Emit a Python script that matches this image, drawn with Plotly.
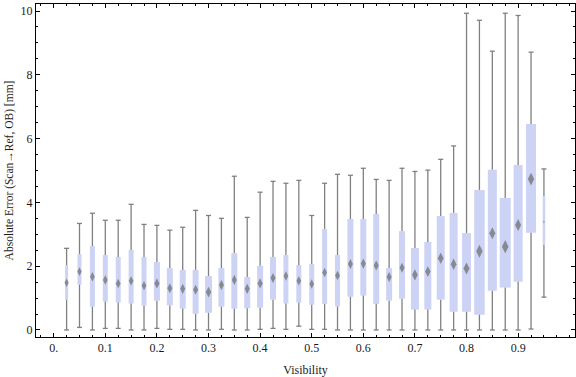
import plotly.graph_objects as go

# ---- data ----
visibility = [0.025, 0.05, 0.075, 0.1, 0.125, 0.15, 0.175, 0.2, 0.225, 0.25,
              0.275, 0.3, 0.325, 0.35, 0.375, 0.4, 0.425, 0.45, 0.475, 0.5,
              0.525, 0.55, 0.575, 0.6, 0.625, 0.65, 0.675, 0.7, 0.725, 0.75,
              0.775, 0.8, 0.825, 0.85, 0.875, 0.9, 0.925, 0.95]

whisker_max = [2.56, 3.34, 3.66, 3.44, 3.44, 3.94, 3.31, 3.28, 3.13, 3.22,
               3.75, 3.59, 3.50, 4.82, 3.53, 4.32, 4.66, 4.60, 4.69,
               3.59, 4.60, 4.88, 4.85, 5.07, 4.72, 4.69, 5.07, 4.97, 5.01,
               5.35, 5.77, 9.93, 9.71, 8.74, 9.93, 9.86, 8.71, 5.05]
q3 = [2.03, 2.38, 2.63, 2.35, 2.29, 2.51, 2.29, 2.13, 1.94, 1.88,
      1.88, 1.69, 1.94, 2.41, 1.66, 2.01, 2.29, 2.35, 2.04,
      2.07, 3.17, 2.35, 3.48, 3.48, 3.64, 1.94, 3.10, 2.57, 2.76,
      3.57, 3.67, 3.04, 4.39, 5.02, 4.14, 5.17, 6.46, 4.20]
median = [1.48, 1.83, 1.67, 1.57, 1.46, 1.54, 1.39, 1.46, 1.31, 1.29,
          1.26, 1.19, 1.41, 1.57, 1.29, 1.46, 1.63, 1.69, 1.54,
          1.44, 1.80, 1.71, 2.07, 2.08, 2.02, 1.66, 1.95, 1.73, 1.83,
          2.25, 2.06, 1.93, 2.47, 3.03, 2.61, 3.29, 4.73, 3.39]
q1 = [0.95, 1.42, 0.73, 0.89, 0.86, 0.83, 0.76, 0.92, 0.77, 0.67,
      0.51, 0.54, 0.73, 0.67, 0.68, 0.70, 0.95, 0.83, 0.86,
      0.79, 0.82, 0.74, 1.04, 1.08, 0.82, 0.92, 0.98, 0.64, 0.64,
      0.95, 0.57, 0.57, 0.48, 1.23, 1.33, 1.51, 3.05, 2.67]
whisker_min = [0.0, 0.08, 0.0, 0.05, 0.05, 0.0, 0.0, 0.05, 0.02, 0.02,
               0.0, 0.0, 0.02, 0.0, 0.0, 0.02, 0.05, 0.02, 0.12,
               0.02, 0.02, 0.0, 0.0, 0.0, 0.0, 0.0, 0.0, 0.0, 0.0,
               0.0, 0.0, 0.0, 0.0, 0.0, 0.0, 0.0, 0.03, 1.03]

x_tick_vals = [0.0, 0.1, 0.2, 0.3, 0.4, 0.5, 0.6, 0.7, 0.8, 0.9]
x_tick_text = ["0.", "0.1", "0.2", "0.3", "0.4", "0.5", "0.6", "0.7", "0.8", "0.9"]
y_tick_vals = [0, 2, 4, 6, 8, 10]

# ---- styling ----
box_widths_px = [3, 4, 5, 5, 5, 5, 5, 6, 6, 6,
                 6, 7, 6, 6, 6, 6, 6, 5, 5,
                 5, 5, 5, 6, 6, 6, 6, 6, 8, 7,
                 8, 8, 9, 10.5, 9, 11, 9, 10, 2.5]
X_RANGE = [-0.0343, 1.0102]
Y_RANGE = [-0.22, 10.22]
PLOT_W_PX = 576 - 36 - 1
PX = (X_RANGE[1] - X_RANGE[0]) / PLOT_W_PX   # data units per pixel
CAP_HALF = 2.5 * PX
BOX_COLOR = "#CCD3F5"
WHISKER_COLOR = "#808080"
MEDIAN_COLOR = "#6a6a6a"
FONT = "Liberation Serif"
TEXT_COLOR = "#1a1a1a"

fig = go.Figure()

# boxes
fig.add_trace(go.Bar(
    x=visibility,
    base=q1,
    y=[t - b for t, b in zip(q3, q1)],
    width=[w * PX for w in box_widths_px],
    marker=dict(color=BOX_COLOR, line=dict(width=0)),
    hoverinfo="skip",
))

# whiskers (outside the boxes) and caps
wx, wy = [], []
for x, lo, b, t, hi in zip(visibility, whisker_min, q1, q3, whisker_max):
    wx += [x, x, None, x, x, None,
           x - CAP_HALF, x + CAP_HALF, None, x - CAP_HALF, x + CAP_HALF, None]
    wy += [hi, t, None, b, lo, None,
           hi, hi, None, lo, lo, None]
fig.add_trace(go.Scatter(
    x=wx, y=wy, mode="lines",
    line=dict(color=WHISKER_COLOR, width=1.3),
    hoverinfo="skip",
))

# median diamonds
fig.add_trace(go.Scatter(
    x=visibility, y=median, mode="markers",
    marker=dict(symbol="diamond-tall", color=MEDIAN_COLOR,
                size=[4.5 + 0.45 * w if w > 3 else (6 if w >= 3 else 2)
                      for w in box_widths_px],
                line=dict(width=0)),
    hoverinfo="skip",
))

axis_common = dict(
    showline=True, linecolor="black", linewidth=1, mirror="ticks",
    ticks="inside", ticklen=4, tickwidth=1, tickcolor="black",
    showgrid=False, zeroline=False,
    tickfont=dict(family=FONT, size=12, color=TEXT_COLOR),
)

fig.update_layout(
    width=576, height=377,
    margin=dict(l=36, r=1, t=4, b=40),
    plot_bgcolor="white", paper_bgcolor="white",
    showlegend=False,
    barmode="overlay",
    font=dict(family=FONT, size=12, color=TEXT_COLOR),
    xaxis=dict(
        range=X_RANGE, tickmode="array", tickvals=x_tick_vals, ticktext=x_tick_text,
        minor=dict(tickmode="linear", tick0=0, dtick=0.025, ticks="inside",
                   ticklen=2, tickcolor="black"),
        title=dict(text="Visibility", font=dict(family=FONT, size=12, color=TEXT_COLOR),
                   standoff=11),
        **axis_common,
    ),
    yaxis=dict(
        range=Y_RANGE, tickmode="array", tickvals=y_tick_vals,
        minor=dict(tickmode="linear", tick0=0, dtick=0.5, ticks="inside",
                   ticklen=2, tickcolor="black"),
        title=dict(text="Absolute Error (Scan\u2192Ref, OB) [mm]",
                   font=dict(family=FONT, size=11.5, color=TEXT_COLOR), standoff=4),
        **axis_common,
    ),
)

fig.write_html("out.html",
               config={"displayModeBar": False},
               post_script="document.body.style.margin='0px';"
                           "document.body.style.overflow='hidden';")
